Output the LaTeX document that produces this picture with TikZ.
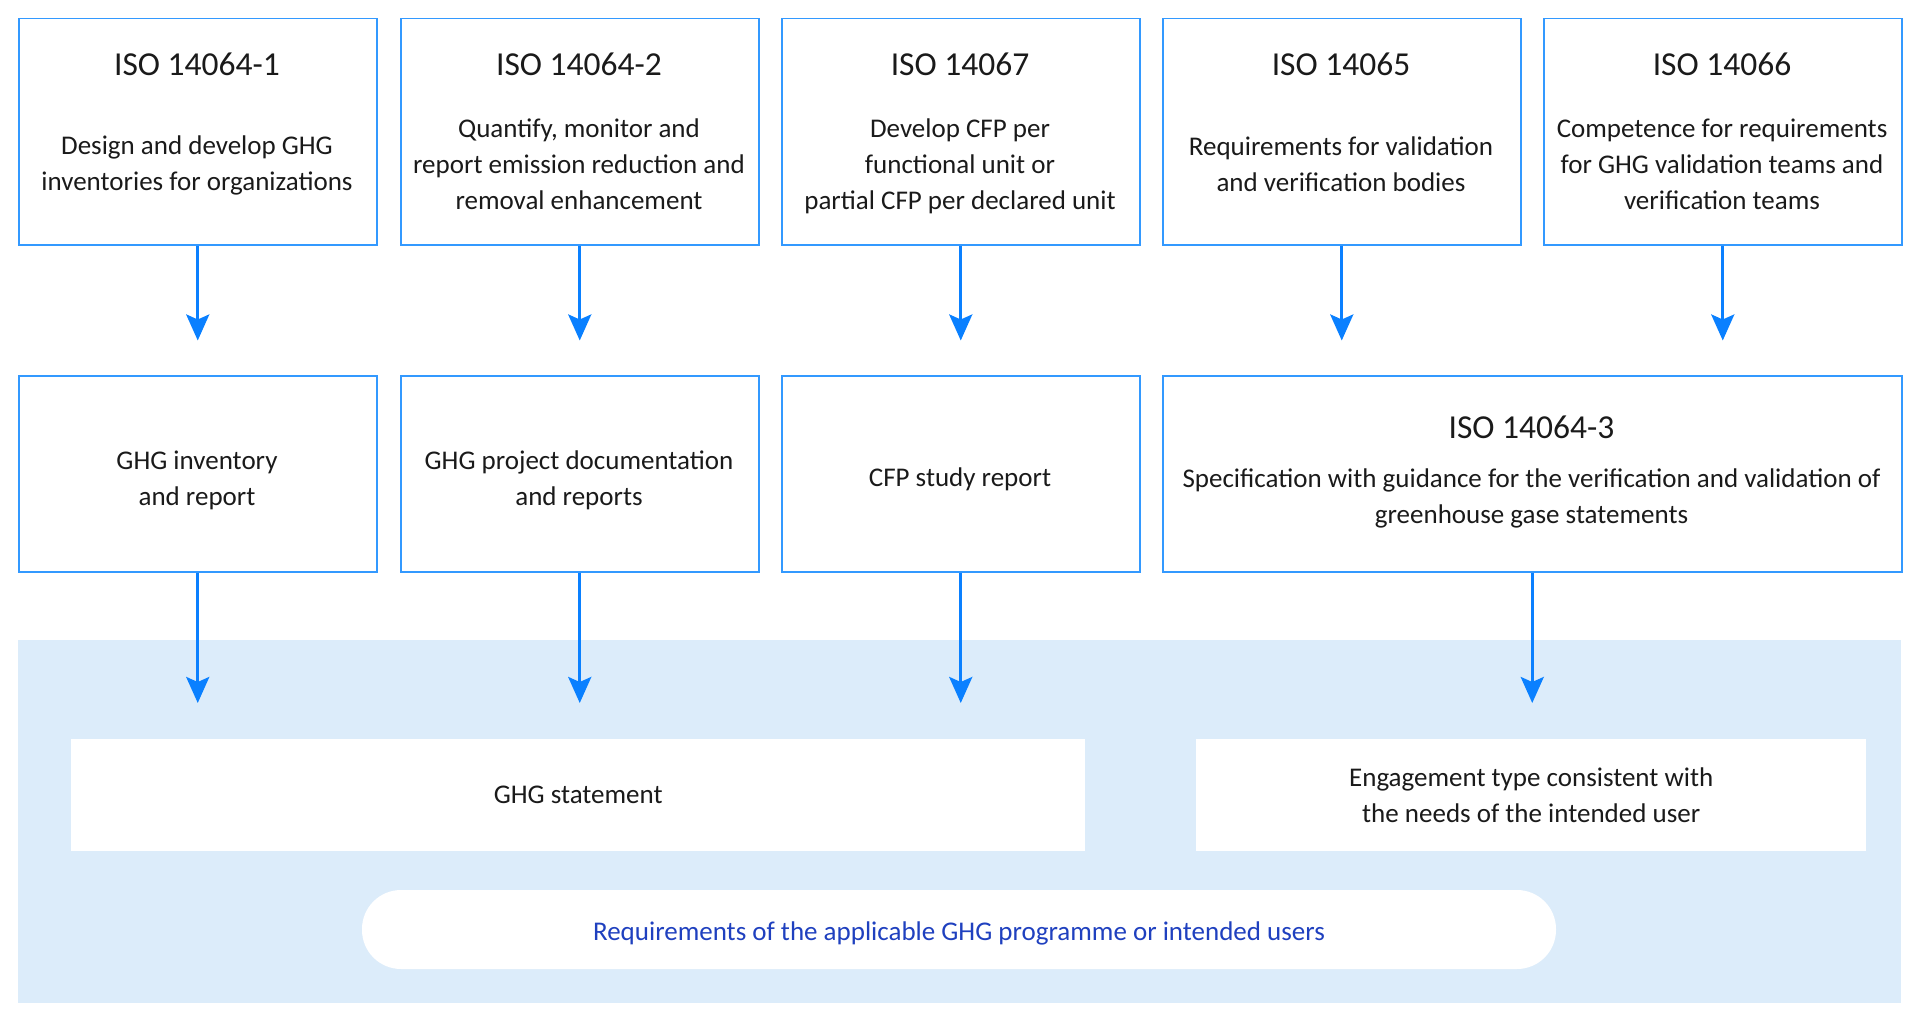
\documentclass[tikz,border=0pt]{standalone}
\usepackage{xcolor}
\usepackage{fontspec}
\setmainfont{Carlito}
\usepackage{tikz}
\usetikzlibrary{arrows.meta}
\usetikzlibrary{positioning}

\definecolor{boxblue}{HTML}{3399FF}
\definecolor{arrowblue}{HTML}{0A80FF}
\definecolor{panelblue}{HTML}{DCECFA}
\definecolor{reqblue}{HTML}{1F40BF}
\definecolor{textgray}{HTML}{1A1A1A}

\begin{document}
\begin{tikzpicture}[
	x=1pt, y=-1pt,
	font=\fontsize{27}{36}\selectfont,
	text=textgray
]
\tikzset{
    isobox/.style = {rectangle, draw=boxblue, line width=1.5pt, anchor=north west, minimum width=358pt, inner sep=0pt},
    isotitle/.style = {font=\fontsize{33.5}{40}\selectfont, inner sep=0pt},
    isotext/.style = {align=center, inner sep=0pt},
    outbox/.style = {rectangle, fill=white, anchor=north west, align=center, minimum height=112pt, inner sep=0pt},
    reqpill/.style = {rectangle, rounded corners=39pt, fill=white, text=reqblue, text height=27pt, minimum width=1194pt, minimum height=79pt},
    flow/.style = {draw=arrowblue, line width=3pt, -{Stealth[length=26pt,width=23pt,inset=5pt]}}
}
\useasboundingbox (0,0) rectangle (1920,1022);
\fill[panelblue] (18,640) rectangle (1901,1003);
% standards
\node[isobox,minimum height=226pt] (iso1) at (18,18) {};
\node[isobox,minimum height=226pt] (iso2) at (400,18) {};
\node[isobox,minimum height=226pt] (iso67) at (781,18) {};
\node[isobox,minimum height=226pt] (iso65) at (1162,18) {};
\node[isobox,minimum height=226pt] (iso66) at (1543,18) {};
\node[isotitle] (iso1title) at (197,64) {ISO 14064-1};
\node[isotitle] (iso2title) at (579,64) {ISO 14064-2};
\node[isotitle] (iso67title) at (960,64) {ISO 14067};
\node[isotitle] (iso65title) at (1341,64) {ISO 14065};
\node[isotitle] (iso66title) at (1722,64) {ISO 14066};
\node[isotext] (iso1text) at (197,165.5) {Design and develop GHG\\inventories for organizations};
\node[isotext] (iso2text) at (579,164) {Quantify, monitor and\\report emission reduction and\\removal enhancement};
\node[isotext] (iso67text) at (960,166) {Develop CFP per\\functional unit or\\partial CFP per declared unit};
\node[isotext] (iso65text) at (1341,164.5) {Requirements for validation\\and verification bodies};
\node[isotext] (iso66text) at (1722,164) {Competence for requirements\\for GHG validation teams and\\verification teams};
% outputs
\node[isobox,minimum height=196pt] (inventory) at (18,375) {};
\node[isobox,minimum height=196pt] (project) at (400,375) {};
\node[isobox,minimum height=196pt] (cfp) at (781,375) {};
\node[isobox,minimum width=739pt,minimum height=196pt] (verif) at (1162,375) {};
\node[isotext] (inventorytext) at (197,480.5) {GHG inventory\\and report};
\node[isotext] (projecttext) at (579,480.5) {GHG project documentation\\and reports};
\node[isotext] (cfptext) at (960,479.5) {CFP study report};
\node[isotitle] (veriftitle) at (1531.5,427.5) {ISO 14064-3};
\node[isotext] (veriftext) at (1531.5,498) {Specification with guidance for the verification and validation of\\greenhouse gase statements};
% statement
\node[outbox,minimum width=1014pt] (statement) at (71,739) {GHG statement};
\node[outbox,minimum width=670pt] (engagement) at (1196,739) {Engagement type consistent with\\the needs of the intended user};
\node[reqpill] (reqs) at (959,929.5) {Requirements of the applicable GHG programme or intended users};
% arrows
\draw[flow,shorten >=34.5pt] (iso1) -- (inventory);
\draw[flow,shorten >=34.5pt] (iso2) -- (project);
\draw[flow,shorten >=34.5pt] (iso67) -- (cfp);
\draw[flow,shorten >=34.5pt] (iso65.south) -- (iso65.south |- verif.north);
\draw[flow,shorten >=34.5pt] (iso66.south) -- (iso66.south |- verif.north);
\draw[flow,shorten >=36pt] (inventory.south) -- (inventory.south |- statement.north);
\draw[flow,shorten >=36pt] (project.south) -- (project.south |- statement.north);
\draw[flow,shorten >=36pt] (cfp.south) -- (cfp.south |- statement.north);
\draw[flow,shorten >=36pt] (verif.south) -- (verif.south |- engagement.north);
\end{tikzpicture}
\end{document}
